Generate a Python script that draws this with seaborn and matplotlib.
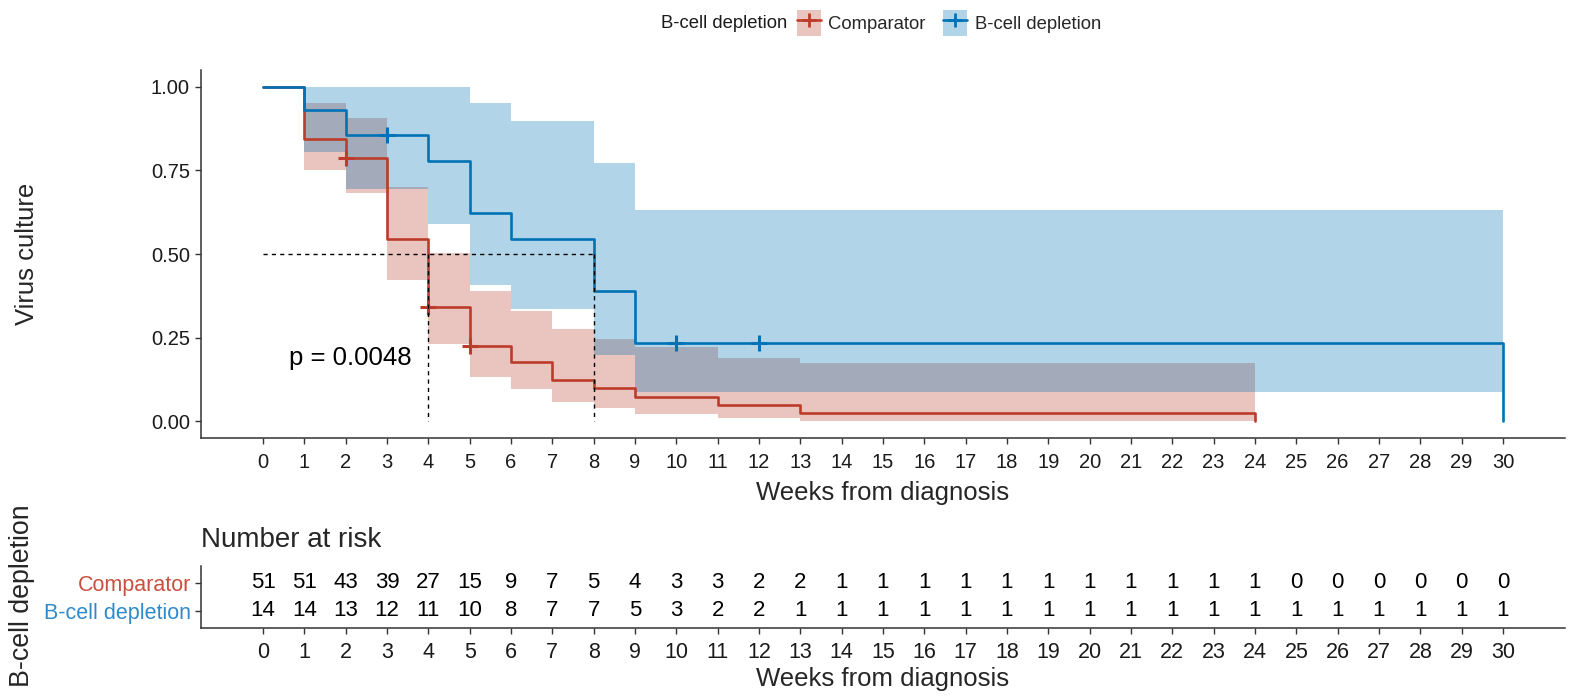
import numpy as np
import pandas as pd
import matplotlib
matplotlib.use("Agg")
import matplotlib.pyplot as plt
from matplotlib.patches import Patch
from matplotlib.lines import Line2D
from matplotlib.legend_handler import HandlerTuple
import seaborn as sns

# ---- Kaplan-Meier step data (weeks from diagnosis) ----
groups = ["Comparator", "B-cell depletion"]

comp_time = [0, 1, 2, 3, 4, 5, 6, 7, 8, 9, 11, 13, 24]
comp_surv = [1.0, 0.843, 0.786, 0.545, 0.341, 0.226, 0.176, 0.123, 0.098, 0.074, 0.049, 0.025, 0.0]
# confidence band per interval [t_i, t_{i+1})
comp_upper = [1.0, 0.952, 0.906, 0.700, 0.503, 0.388, 0.330, 0.275, 0.245, 0.223, 0.188, 0.173]
comp_lower = [1.0, 0.752, 0.681, 0.421, 0.231, 0.133, 0.095, 0.058, 0.041, 0.023, 0.011, 0.002]
comp_censor = [2, 4, 5]

bcell_time = [0, 1, 2, 4, 5, 6, 8, 9, 30]
bcell_surv = [1.0, 0.929, 0.857, 0.779, 0.623, 0.545, 0.389, 0.234, 0.0]
bcell_upper = [1.0, 1.0, 1.0, 1.0, 0.952, 0.899, 0.771, 0.632]
bcell_lower = [1.0, 0.804, 0.694, 0.589, 0.408, 0.335, 0.198, 0.087]
bcell_censor = [3, 10, 12]

p_label = "p = 0.0048"

# ---- numbers at risk ----
risk_weeks = list(range(0, 31))
comp_risk = [51, 51, 43, 39, 27, 15, 9, 7, 5, 4, 3, 3, 2, 2,
             1, 1, 1, 1, 1, 1, 1, 1, 1, 1, 1, 0, 0, 0, 0, 0, 0]
bcell_risk = [14, 14, 13, 12, 11, 10, 8, 7, 7, 5, 3, 2, 2,
              1, 1, 1, 1, 1, 1, 1, 1, 1, 1, 1, 1, 1, 1, 1, 1, 1, 1]

line_colors = {"Comparator": "#BC3C29", "B-cell depletion": "#0072B5"}
label_colors = {"Comparator": "#C9503E", "B-cell depletion": "#2E8BCB"}

sns.set_theme(style="ticks")
plt.rcParams["font.family"] = ["Liberation Sans", "DejaVu Sans"]
plt.rcParams["axes.edgecolor"] = "#333333"
plt.rcParams["xtick.color"] = "#333333"
plt.rcParams["ytick.color"] = "#333333"
plt.rcParams["xtick.labelcolor"] = "#1a1a1a"
plt.rcParams["ytick.labelcolor"] = "#1a1a1a"

W, H = 1572, 699
fig = plt.figure(figsize=(W / 100, H / 100), dpi=100)

def fig_box(left, top, right, bottom):
    return [left / W, 1 - bottom / H, (right - left) / W, (bottom - top) / H]

ax = fig.add_axes(fig_box(201, 70, 1565, 438))
ax_r = fig.add_axes(fig_box(201, 565.5, 1565, 628))

curves = {
    "Comparator": (comp_time, comp_surv, comp_upper, comp_lower, comp_censor),
    "B-cell depletion": (bcell_time, bcell_surv, bcell_upper, bcell_lower, bcell_censor),
}

# confidence bands
for g in groups:
    t, s, up, lo, _ = curves[g]
    up_draw = list(up) + [up[-1]]
    lo_draw = list(lo) + [lo[-1]]
    ax.fill_between(t, lo_draw, up_draw, step="post", color=line_colors[g],
                    alpha=0.3, linewidth=0)

# survival curves
df = pd.concat([pd.DataFrame({"time": curves[g][0], "surv": curves[g][1], "group": g})
                for g in groups], ignore_index=True)
sns.lineplot(data=df, x="time", y="surv", hue="group", hue_order=groups,
             palette=line_colors, drawstyle="steps-post", estimator=None,
             linewidth=1.9, legend=False, ax=ax)

def surv_at(t_arr, s_arr, x):
    idx = np.searchsorted(t_arr, x, side="right") - 1
    return s_arr[idx]

# censoring marks
for g in groups:
    t, s, _, _, cens = curves[g]
    ys = [surv_at(np.array(t), s, c) for c in cens]
    ax.plot(cens, ys, linestyle="none", marker="+", markersize=11,
            markeredgewidth=2.2, color=line_colors[g])

# median survival guide lines
medians = []
for g in groups:
    t, s = curves[g][0], curves[g][1]
    medians.append(next(tt for tt, ss in zip(t, s) if ss <= 0.5))
ax.plot([0, max(medians)], [0.5, 0.5], linestyle=(0, (3, 3)), color="black", linewidth=1)
for m in medians:
    ax.plot([m, m], [0.5, 0], linestyle=(0, (3, 3)), color="black", linewidth=1)

ax.text(0.62, 0.19, p_label, fontsize=18.5, ha="left", va="center", color="black")

ax.set_xlim(-1.5, 31.5)
ax.set_ylim(-0.05, 1.05)
ax.set_xticks(risk_weeks)
ax.set_yticks([0, 0.25, 0.5, 0.75, 1.0])
ax.set_yticklabels(["0.00", "0.25", "0.50", "0.75", "1.00"])
ax.tick_params(axis="both", labelsize=14.5, length=4, width=1, pad=4)
ax.tick_params(axis="x", pad=7)
ax.set_xlabel("Weeks from diagnosis", fontsize=18.5)
ax.set_ylabel("Virus culture", fontsize=18.5)
ax.xaxis.label.set_va("center")
ax.yaxis.label.set_va("center")
ax.xaxis.set_label_coords(0.5, -0.15)
ax.yaxis.set_label_coords(-0.1276, 0.5)
for sp in ["top", "right"]:
    ax.spines[sp].set_visible(False)
for sp in ["left", "bottom"]:
    ax.spines[sp].set_linewidth(1.1)

# ---- risk table ----
rows = {"Comparator": 1, "B-cell depletion": 0}
risk = {"Comparator": comp_risk, "B-cell depletion": bcell_risk}
for g in groups:
    for wk, n in zip(risk_weeks, risk[g]):
        ax_r.text(wk, rows[g], str(n), ha="center", va="center", fontsize=16, color="black")

ax_r.set_xlim(-1.5, 31.5)
ax_r.set_ylim(-0.6, 1.6)
ax_r.set_xticks(risk_weeks)
ax_r.set_yticks([rows[g] for g in groups])
ax_r.set_yticklabels(groups)
for lbl, g in zip(ax_r.get_yticklabels(), groups):
    lbl.set_color(label_colors[g])
ax_r.tick_params(axis="both", length=4, width=1)
ax_r.tick_params(axis="x", labelsize=15.5, pad=6)
ax_r.tick_params(axis="y", labelsize=15.5, pad=3)
ax_r.set_xlabel("Weeks from diagnosis", fontsize=18.5)
ax_r.set_ylabel("B-cell depletion", fontsize=19.3)
ax_r.xaxis.label.set_va("center")
ax_r.yaxis.label.set_va("center")
ax_r.xaxis.set_label_coords(0.5, -0.82)
ax_r.yaxis.set_label_coords(-0.131, 0.52)
ax_r.set_title("Number at risk", loc="left", fontsize=20, pad=13)
for sp in ["top", "right"]:
    ax_r.spines[sp].set_visible(False)
for sp in ["left", "bottom"]:
    ax_r.spines[sp].set_linewidth(1.1)

# ---- legend ----
handles = [(Patch(facecolor=line_colors[g], alpha=0.3, linewidth=0),
            Line2D([], [], color=line_colors[g], linewidth=1.9, marker="+",
                   markersize=10, markeredgewidth=2))
           for g in groups]
fig.legend(handles, groups, handler_map={tuple: HandlerTuple(ndivide=1)},
           loc="center left", bbox_to_anchor=(797 / W, 1 - 23 / H), ncol=2,
           frameon=False, fontsize=13.3, borderpad=0, borderaxespad=0,
           handlelength=1.3, handleheight=1.75, handletextpad=0.4, columnspacing=0.95)
fig.text(787 / W, 1 - 23 / H, "B-cell depletion", ha="right", va="center",
         fontsize=13.3, color="#1a1a1a")

fig.savefig("out.png", dpi=100)
